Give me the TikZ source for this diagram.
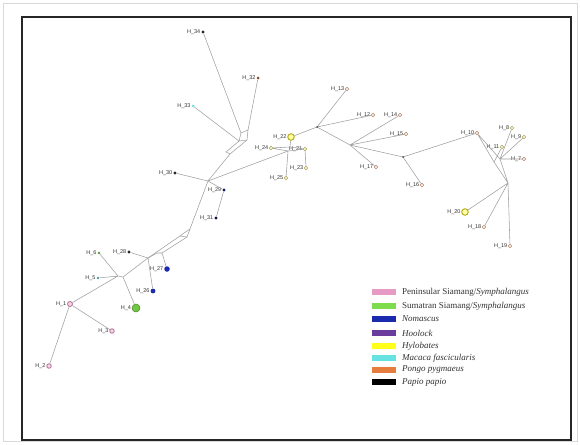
\documentclass[tikz,border=0pt]{standalone}
\usepackage{fontspec}
\setmainfont{Liberation Serif}
\newfontfamily\labfont{Liberation Sans}
\definecolor{edgec}{HTML}{A0A0A0}
\definecolor{pinkc}{HTML}{E79AC4}
\definecolor{greenc}{HTML}{7EDC4C}
\definecolor{bluec}{HTML}{1C2AAE}
\definecolor{purplec}{HTML}{6B3C9C}
\definecolor{yellowc}{HTML}{FFFF1A}
\definecolor{cyanc}{HTML}{66E2E2}
\definecolor{orangec}{HTML}{E57E3C}
\definecolor{olivec}{HTML}{A8A040}
\definecolor{ringc}{HTML}{B8B020}
\begin{document}
\begin{tikzpicture}[x=1pt,y=-1pt,
  edge/.style={draw=edgec, line width=0.55pt},
  hp/.style={circle, inner sep=0pt, minimum size=3.4pt, line width=0.5pt},
  hsm/.style={hp, draw=olivec, fill=white, minimum size=3.4pt},
  hbk/.style={hp, fill=black!85, minimum size=3.4pt},
  hbig/.style={hp, draw=ringc, fill=yellowc!40, line width=1pt, minimum size=6.5pt},
  hpk/.style={hp, draw=pinkc!80!black, fill=pinkc!40, line width=0.9pt, minimum size=5pt},
  lbl/.style={font=\labfont\fontsize{5.5}{6}\selectfont, text=black!80, inner sep=0.6pt},
  jd/.style={circle, fill=black!70, inner sep=0pt, minimum size=2pt},
  legtxt/.style={font=\fontsize{9}{10}\selectfont, text=black!80, anchor=west, inner sep=0pt}
]
\useasboundingbox (0,0) rectangle (580,444);
\fill[white] (0,0) rectangle (580,444);
\draw[black!15, line width=0.8pt] (3,3) rectangle (577,441);
\draw[black!85, line width=1.2pt] (22,17) rectangle (571,440);

% haplotypes
\node[hbk, label={[lbl]left:H\_34}] (h34) at (203,32) {};
\node[hp, fill=orangec!60!black, minimum size=3pt, label={[lbl]left:H\_32}] (h32) at (258,78) {};
\node[hp, fill=cyanc, minimum size=3pt, label={[lbl]left:H\_33}] (h33) at (193,106) {};
\node[hbig, label={[lbl]left:H\_22}] (h22) at (291,137) {};
\node[hsm, label={[lbl]left:H\_24}] (h24) at (271,148) {};
\node[hsm, label={[lbl]left:H\_21}] (h21) at (305,149) {};
\node[hsm, label={[lbl]left:H\_23}] (h23) at (306,168) {};
\node[hsm, label={[lbl]left:H\_25}] (h25) at (286,178) {};
\node[hbk, label={[lbl]left:H\_30}] (h30) at (175,173) {};
\node[hp, fill=bluec!60!black, label={[lbl]left:H\_29}] (h29) at (224,190) {};
\node[hp, fill=bluec!40!black, label={[lbl]left:H\_31}] (h31) at (216,218) {};
\node[hsm, draw=orangec!50!gray, label={[lbl]left:H\_13}] (h13) at (347,89) {};
\node[hsm, draw=orangec!50!gray, label={[lbl]left:H\_12}] (h12) at (373,115) {};
\node[hsm, draw=orangec!50!gray, label={[lbl]left:H\_14}] (h14) at (400,115) {};
\node[hsm, draw=orangec!50!gray, label={[lbl]left:H\_15}] (h15) at (406,134) {};
\node[hsm, draw=orangec!50!gray, label={[lbl]left:H\_17}] (h17) at (376,167) {};
\node[hsm, draw=orangec!50!gray, label={[lbl]left:H\_16}] (h16) at (422,185) {};
\node[hsm, draw=orangec!50!gray, label={[lbl]left:H\_10}] (h10) at (477,133) {};
\node[hsm, label={[lbl]left:H\_8}] (h8) at (512,128) {};
\node[hsm, label={[lbl]left:H\_9}] (h9) at (524,137) {};
\node[hsm, label={[lbl]left:H\_11}] (h11) at (502,147) {};
\node[hsm, draw=orangec!50!gray, label={[lbl]left:H\_7}] (h7) at (524,159) {};
\node[hbig, label={[lbl]left:H\_20}] (h20) at (465,212) {};
\node[hsm, draw=orangec!50!gray, label={[lbl]left:H\_18}] (h18) at (484,227) {};
\node[hsm, draw=orangec!50!gray, label={[lbl]left:H\_19}] (h19) at (510,246) {};
\node[hp, fill=greenc!70!black, minimum size=2.8pt, label={[lbl]left:H\_6}] (h6) at (99,253) {};
\node[hbk, label={[lbl]left:H\_28}] (h28) at (129,252) {};
\node[hp, fill=cyanc!70!black, minimum size=2.8pt, label={[lbl]left:H\_5}] (h5) at (98,278) {};
\node[hp, fill=bluec, minimum size=5.5pt, label={[lbl]left:H\_27}] (h27) at (167,269) {};
\node[hp, fill=bluec, minimum size=4.8pt, label={[lbl]left:H\_26}] (h26) at (153,291) {};
\node[hp, fill=greenc!90!black, draw=greenc!60!black, minimum size=8pt, label={[lbl]left:H\_4}] (h4) at (136,308) {};
\node[hpk, label={[lbl]left:H\_1}] (h1) at (70,304) {};
\node[hpk, minimum size=4.5pt, label={[lbl]left:H\_3}] (h3) at (112,331) {};
\node[hpk, minimum size=4.5pt, label={[lbl]left:H\_2}] (h2) at (49,366) {};

% median vectors
\coordinate (ja) at (241,133);
\coordinate (jb) at (248,130);
\coordinate (jc) at (247,140);
\coordinate (jc2) at (239,141);
\coordinate (jd) at (230,154);
\coordinate (jd2) at (226,152);
\coordinate (je) at (208,181);
\coordinate (jR) at (288,151);
\coordinate (jR2) at (290,147);
\coordinate (jf) at (190,229);
\coordinate (jf2) at (184,233);
\coordinate (jg) at (180,236);
\coordinate (jg2) at (187,237);
\coordinate (ji) at (148,258);
\coordinate (jt1) at (162,253);
\coordinate (jt2) at (157,253);
\coordinate (jk) at (118,276);
\coordinate (jk2) at (123,277);
\coordinate (jN1) at (494,162);
\coordinate (jN2) at (500,159);
\coordinate (jN3) at (508,183);
\coordinate (jM1) at (317,127);
\coordinate (jM2) at (350,145);
\coordinate (jM3) at (403,157);

\draw[edge] (h34) -- (ja) (h32) -- (jb) (h33) -- (jc2);
\draw[edge] (ja) -- (jb) -- (jc) -- (jc2) -- (ja);
\draw[edge] (jc) -- (jd) -- (je);
\draw[edge] (jc2) -- (jd2) -- (jd);
\draw[edge] (h30) -- (je) (h29) -- (je) (h31) -- (h29);
\draw[edge] (je) -- (jR);
\draw[edge] (h24) -- (jR) -- (h21) (h24) -- (jR2) -- (h21);
\draw[edge] (h25) -- (jR) (h23) -- (h21) (h22) -- (jR2);
\draw[edge] (h22) -- (jM1) (jM1) -- (h13) (jM1) -- (h12) (jM1) -- (jM2);
\draw[edge] (jM2) -- (h14) (jM2) -- (h15) (jM2) -- (h17) (jM2) -- (jM3);
\draw[edge] (jM3) -- (h16) (jM3) -- (h10);
\draw[edge] (h10) -- (jN1) (h11) -- (jN1) (h10) -- (jN2);
\draw[edge] (h8) -- (jN2) (h9) -- (jN2) (h7) -- (jN2);
\draw[edge] (jN1) -- (jN3) (jN2) -- (jN3);
\draw[edge] (jN3) -- (h20) (jN3) -- (h18) (jN3) -- (h19);
\draw[edge] (je) -- (jf) -- (jf2) -- (jg) (jf) -- (jg2) -- (jg);
\draw[edge] (jg) -- (ji) (jg2) -- (jt1);
\draw[edge] (h28) -- (ji) (h26) -- (ji) (h27) -- (jt1) -- (jt2) -- (ji);
\draw[edge] (ji) -- (jk2) -- (jk) (h6) -- (jk) (h5) -- (jk) (h4) -- (jk2) (h1) -- (jk);
\draw[edge] (h1) -- (h2) (h1) -- (h3);
\node[jd] (m1) at (jM1) {};
\node[jd] (m3) at (jM3) {};

% legend
\foreach \y/\c/\t in {292/pinkc/{Peninsular Siamang/\textit{Symphalangus}},
                      306/greenc/{Sumatran Siamang/\textit{Symphalangus}},
                      319/bluec/{\textit{Nomascus}},
                      333/purplec/{\textit{Hoolock}},
                      346/yellowc/{\textit{Hylobates}},
                      358/cyanc/{\textit{Macaca fascicularis}},
                      370/orangec/{\textit{Pongo pygmaeus}},
                      382/black/{\textit{Papio papio}}}{
  \fill[\c] (372,\y-3.2) rectangle (396,\y+3.2);
  \node[legtxt] at (402,\y) {\t};
}
\end{tikzpicture}
\end{document}
